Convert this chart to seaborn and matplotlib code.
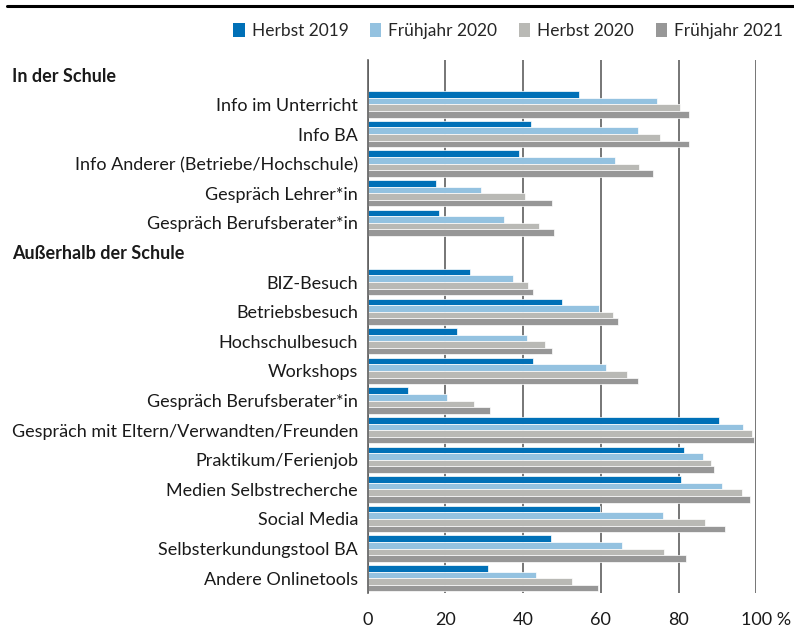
import matplotlib
matplotlib.use("Agg")
import matplotlib.pyplot as plt
import seaborn as sns
import pandas as pd
from matplotlib.patches import Patch
from matplotlib.lines import Line2D
from matplotlib.transforms import blended_transform_factory, ScaledTranslation

# ---------------- data ----------------
waves = ["Herbst 2019", "Frühjahr 2020", "Herbst 2020", "Frühjahr 2021"]
colors = ["#0070B7", "#94C2E0", "#B9B9B5", "#979797"]

header_school = "In der Schule"
header_outside = "Außerhalb der Schule"

items_school = [
    "Info im Unterricht",
    "Info BA",
    "Info Anderer (Betriebe/Hochschule)",
    "Gespräch Lehrer*in",
    "Gespräch Berufsberater*in",
]
items_outside = [
    "BIZ-Besuch",
    "Betriebsbesuch",
    "Hochschulbesuch",
    "Workshops",
    "Gespräch Berufsberater*in",
    "Gespräch mit Eltern/Verwandten/Freunden",
    "Praktikum/Ferienjob",
    "Medien Selbstrecherche",
    "Social Media",
    "Selbsterkundungstool BA",
    "Andere Onlinetools",
]

herbst2019_school = [54.5, 42.0, 38.9, 17.5, 18.3]
fruehjahr2020_school = [74.5, 69.6, 63.6, 29.1, 35.2]
herbst2020_school = [80.4, 75.3, 69.8, 40.4, 44.1]
fruehjahr2021_school = [82.6, 82.6, 73.5, 47.3, 48.0]

herbst2019_outside = [26.3, 50.0, 23.0, 42.5, 10.3, 90.4, 81.3, 80.5, 59.8, 47.2, 30.9]
fruehjahr2020_outside = [37.4, 59.5, 40.9, 61.2, 20.3, 96.7, 86.4, 91.3, 76.0, 65.5, 43.3]
herbst2020_outside = [41.3, 63.1, 45.5, 66.8, 27.4, 98.9, 88.4, 96.3, 86.7, 76.2, 52.6]
fruehjahr2021_outside = [42.5, 64.3, 47.4, 69.6, 31.5, 99.3, 89.2, 98.5, 91.9, 81.8, 59.3]

x_ticks = [0, 20, 40, 60, 80, 100]
x_ticklabels = ["0", "20", "40", "60", "80", "100 %"]

# ---------------- build table ----------------
order = ["H0"] + [f"S{i}" for i in range(len(items_school))] + ["H1"] + \
        [f"O{i}" for i in range(len(items_outside))]
slot_labels = [""] + items_school + [""] + items_outside

rows = []
series_school = [herbst2019_school, fruehjahr2020_school, herbst2020_school, fruehjahr2021_school]
series_outside = [herbst2019_outside, fruehjahr2020_outside, herbst2020_outside, fruehjahr2021_outside]
for w, vals in zip(waves, series_school):
    for i, v in enumerate(vals):
        rows.append({"key": f"S{i}", "wave": w, "value": v})
for w, vals in zip(waves, series_outside):
    for i, v in enumerate(vals):
        rows.append({"key": f"O{i}", "wave": w, "value": v})
df = pd.DataFrame(rows)

# ---------------- plot ----------------
sns.set_theme(style="white")
plt.rcParams["font.family"] = ["Lato", "DejaVu Sans"]
FS = 13
FS_LEG = 12.5

fig = plt.figure(figsize=(7.94, 6.28), dpi=100)
ax = fig.add_axes([367.7 / 794, 1 - 593 / 628, (756.3 - 367.7) / 794, 533 / 628])

sns.barplot(data=df, x="value", y="key", hue="wave", order=order, hue_order=waves,
            palette=dict(zip(waves, colors)), width=0.89, orient="h", saturation=1,
            edgecolor="white", linewidth=0.5, legend=False, ax=ax)

ax.set_xlim(0, 100)
ax.set_ylim(len(order) - 0.5, -0.5)
ax.set_xlabel("")
ax.set_ylabel("")

ax.set_xticks(x_ticks)
ax.set_xticklabels(x_ticklabels, fontsize=FS, color="#1a1a1a")
ax.set_yticks(range(len(order)))
ax.set_yticklabels(slot_labels, fontsize=FS, color="#1a1a1a")
ax.tick_params(axis="both", length=0)
ax.tick_params(axis="x", pad=14)
ax.tick_params(axis="y", pad=7)

# shift "100 %" so that the number sits on the gridline
lbl = ax.get_xticklabels()[-1]
lbl.set_transform(lbl.get_transform() + ScaledTranslation(10 / 100, 0, fig.dpi_scale_trans))

ax.xaxis.grid(True, color="#5f5f5f", linewidth=1.2)
ax.set_axisbelow(True)
for s in ["top", "right", "bottom"]:
    ax.spines[s].set_visible(False)
ax.spines["left"].set_color("#5f5f5f")
ax.spines["left"].set_linewidth(1.2)

# group headers
tr = blended_transform_factory(fig.transFigure, ax.transData)
for name, key in [(header_school, "H0"), (header_outside, "H1")]:
    ax.text(12 / 794, order.index(key) + 0.05, name, transform=tr, fontsize=FS,
            fontweight="bold", ha="left", va="center", color="#1a1a1a")

# legend
handles = [Patch(facecolor=c, edgecolor="none") for c in colors]
fig.legend(handles, waves, loc="center right", bbox_to_anchor=(783 / 794, 1 - 31 / 628),
           ncol=4, frameon=False, fontsize=FS_LEG, handlelength=0.65, handleheight=0.8,
           handletextpad=0.4, columnspacing=1.25, borderaxespad=0, borderpad=0)

# top rule
fig.add_artist(Line2D([7 / 794, 1.0], [1 - 6 / 628, 1 - 6 / 628], color="black", linewidth=2.2))

fig.savefig("out.png", dpi=100)
